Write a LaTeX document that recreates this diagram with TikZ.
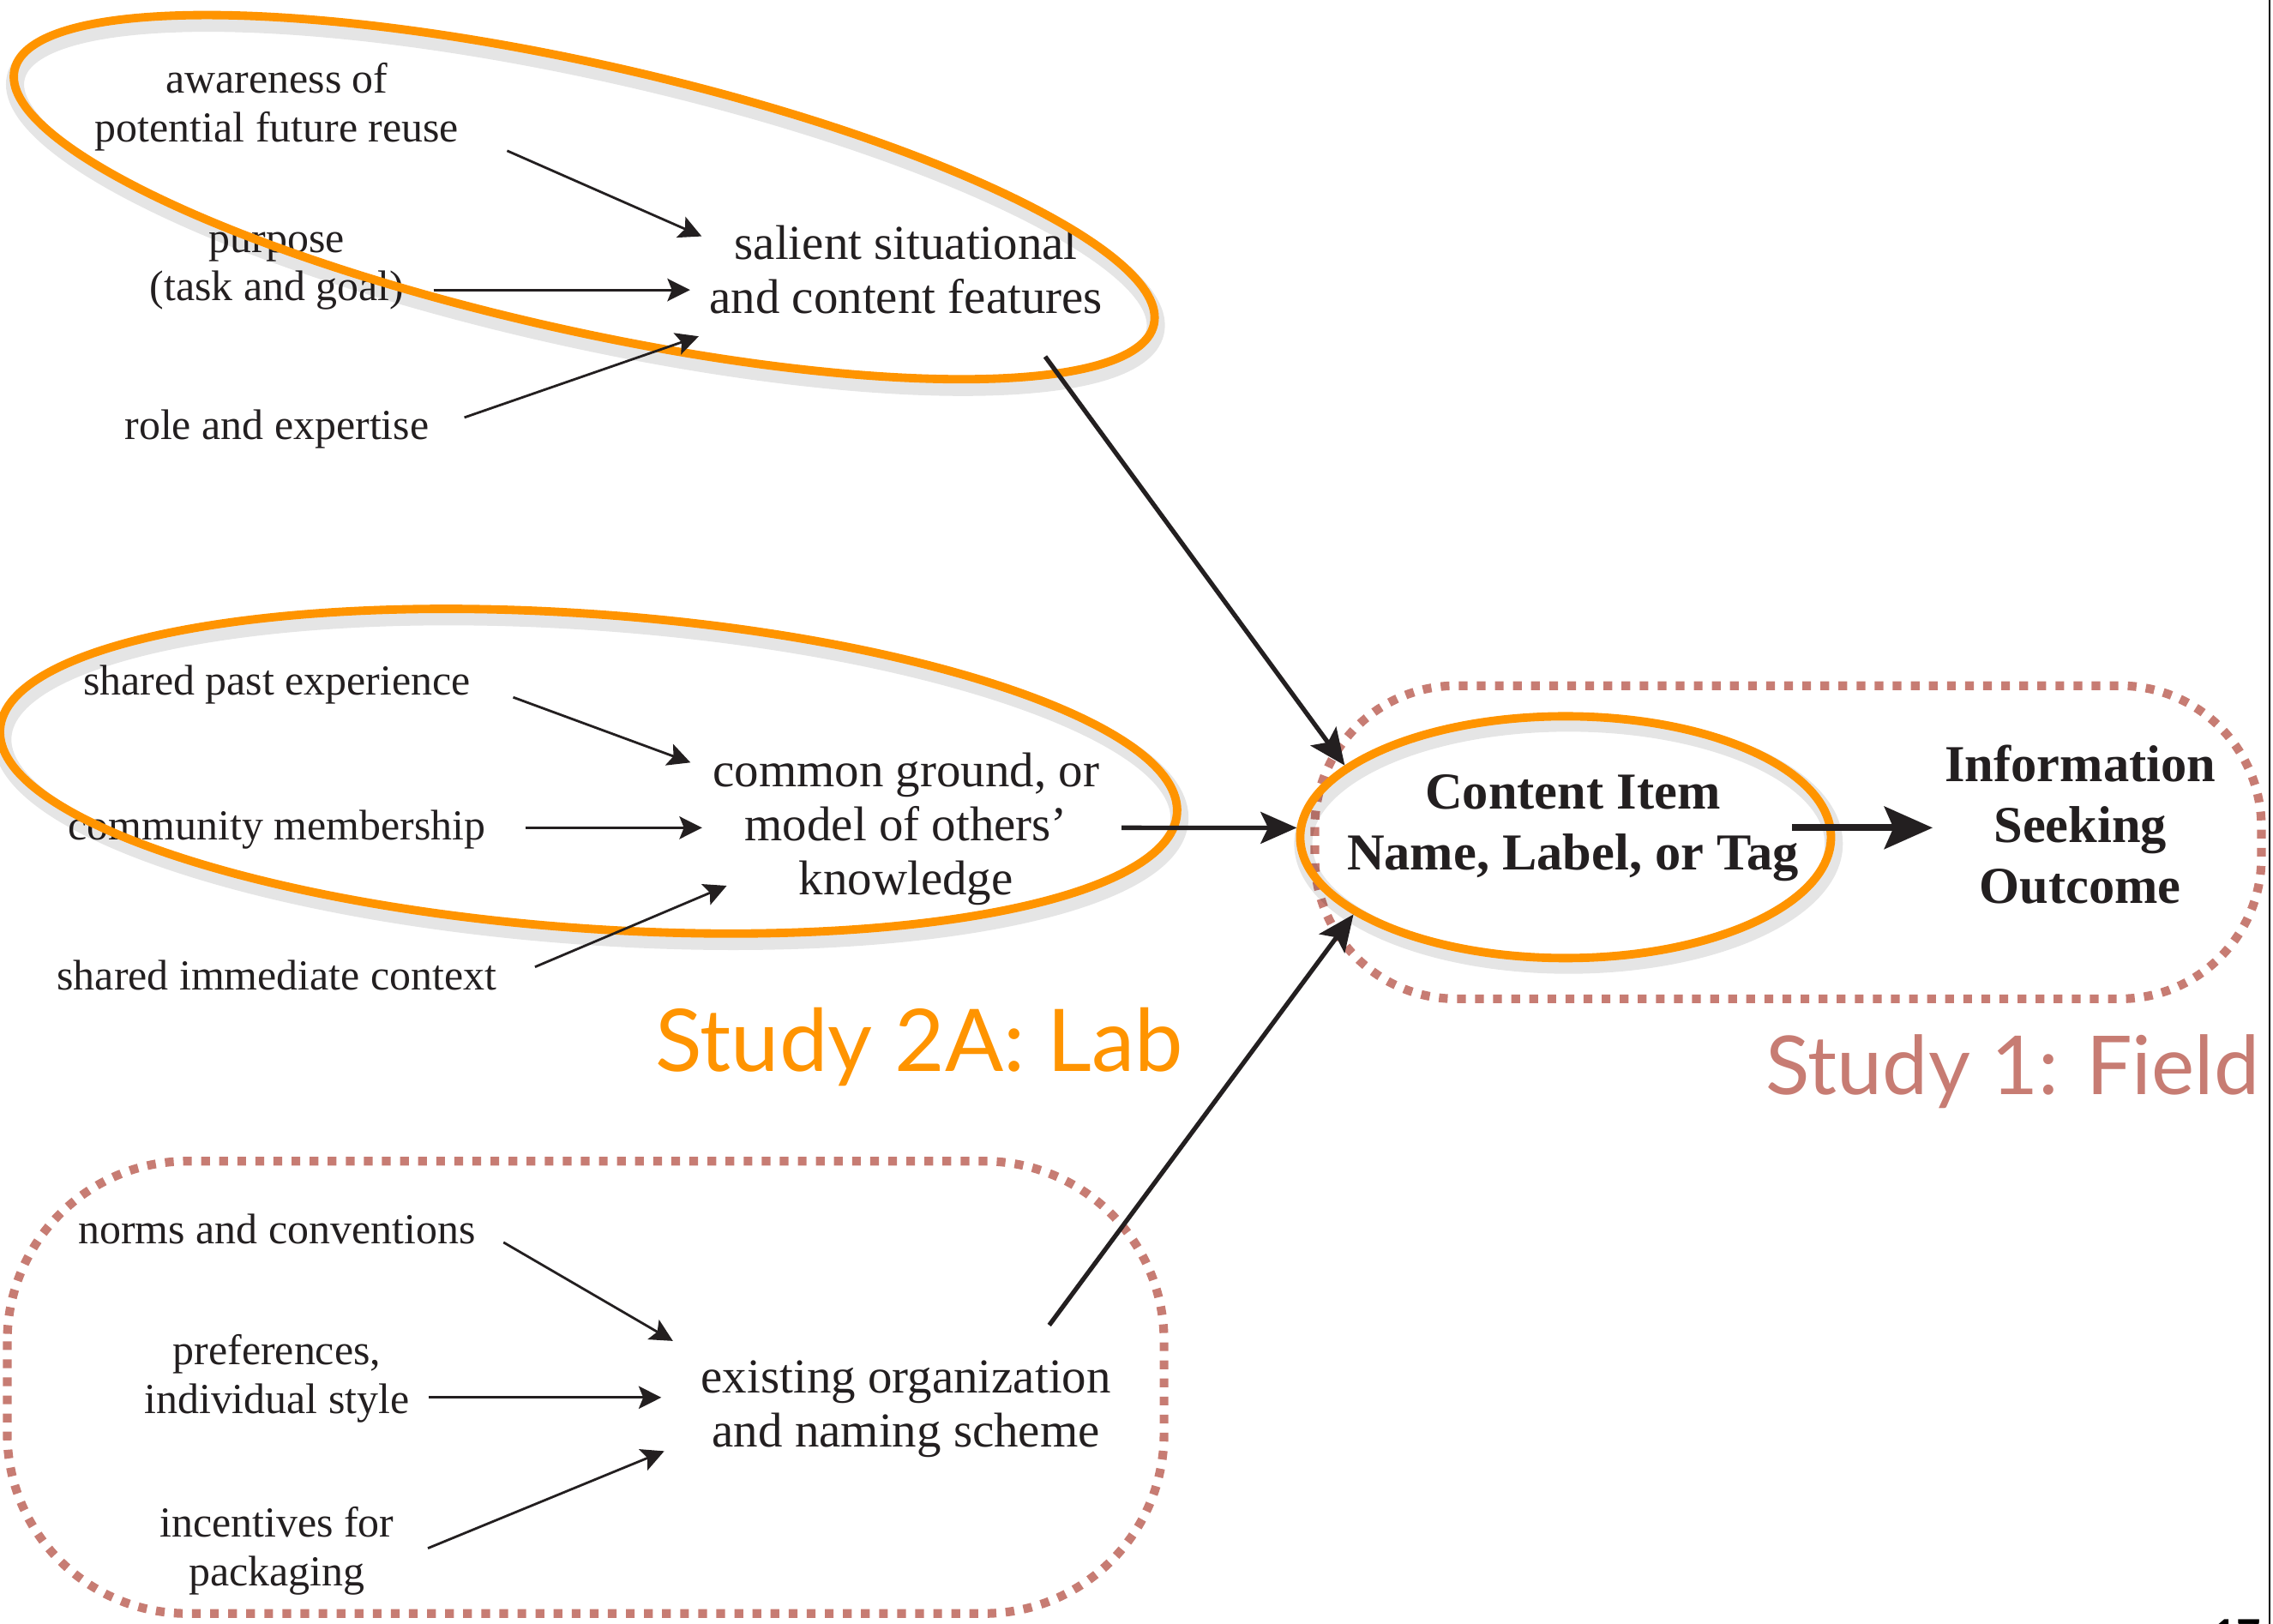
\documentclass[tikz,border=0pt]{standalone}
\usepackage{fontspec}
\usetikzlibrary{arrows.meta,shapes.geometric}
\newfontfamily\studyfont{Lato}
\newfontfamily\palfont{Liberation Serif}
\definecolor{laborange}{RGB}{255,148,0}
\definecolor{fieldrose}{RGB}{199,124,115}
\definecolor{inkblack}{RGB}{35,31,32}
\tikzset{
  factor/.style={align=center,inner sep=0pt,text=inkblack,font=\palfont\fontsize{14.2}{16.2}\selectfont},
  feature/.style={align=center,inner sep=0pt,text=inkblack,font=\palfont\fontsize{16.2}{18}\selectfont},
  outcome/.style={align=center,inner sep=0pt,text=inkblack,font=\palfont\bfseries\fontsize{17.2}{20.2}\selectfont},
  studylabel/.style={inner sep=0pt,font=\studyfont\fontsize{28.7}{30}\selectfont},
  labring/.style={draw=laborange,line width=2.8pt},
  ringshadow/.style={draw=black,opacity=.1,line width=6pt},
  fieldbox/.style={draw=fieldrose,line width=2.9pt,line cap=butt,dash pattern=on 2.9pt off 3.1pt},
  feedarrow/.style={-{Stealth[length=7.5pt,width=7.5pt,inset=1.5pt]},line width=.8pt,draw=inkblack},
  leadarrow/.style={-{Stealth[length=12pt,width=10.5pt,inset=2.5pt]},line width=1.5pt,draw=inkblack},
  outarrow/.style={-{Stealth[length=16pt,width=14pt,inset=3pt]},line width=2.3pt,draw=inkblack},
}
\begin{document}
\begin{tikzpicture}[x=0.16907mm,y=-0.16907mm,line join=round]
	\useasboundingbox (0,0) rectangle (1568,1120);
	\draw[fieldbox,rounded corners=16.5mm] (907,473) rectangle (1560,689);
	\draw[fieldbox,rounded corners=21mm] (5,801) rectangle (803,1113);
	\draw[line width=.7pt] (1565.5,0) -- (1565.5,1120);
	% left column and middle column
	\node[factor] (aware) at (191,74) {awareness of\\potential future reuse};
	\node[factor] (purpose) at (191,187) {purpose\\(task and goal)};
	\node[factor] (role) at (191,296) {role and expertise};
	\node[feature] (salient) at (625,186) {salient situational\\and content features};
	\node[factor] (past) at (191,472) {shared past experience};
	\node[factor] (community) at (191,572) {community membership};
	\node[factor] (context) at (191,673) {shared immediate context};
	\node[feature] (ground) at (625,572) {common ground, or\\model of others’\\knowledge};
	\node[factor] (norms) at (191,848) {norms and conventions};
	\node[factor] (prefs) at (191,951) {preferences,\\individual style};
	\node[factor] (incent) at (191,1070) {incentives for\\packaging};
	\node[feature] (scheme) at (625,972) {existing organization\\and naming scheme};
	\node[outcome] (item) at (1085,571) {Content Item\\Name, Label, or Tag};
	\node[outcome] (info) at (1435,569) {Information\\Seeking\\Outcome};
	% orange rings
	\draw[ringshadow,rotate around={-12.6:(403,136)}] (405,141) ellipse [x radius=402.7,y radius=92];
	\draw[labring,rotate around={-12.6:(403,136)}] (403,136) ellipse [x radius=402.7,y radius=92];
	\draw[ringshadow,rotate around={-4.1:(406,532)}] (408,537) ellipse [x radius=407,y radius=108.4];
	\draw[labring,rotate around={-4.1:(406,532)}] (406,532) ellipse [x radius=407,y radius=108.4];
	\draw[ringshadow] (1082,582) ellipse [x radius=183,y radius=83.5];
	\node[labring,ellipse,inner sep=0pt,minimum width=61.9mm,minimum height=28.2mm] (ring) at (1080,577.5) {};
	\node[studylabel,anchor=base,text=laborange] (lab) at (634,739) {Study 2A: Lab};
	\node[studylabel,anchor=base east,text=fieldrose,font=\studyfont\fontsize{27}{30}\selectfont] (field) at (1559,755) {Study 1: Field};
	\node[anchor=north,inner sep=0pt,font=\studyfont\bfseries\fontsize{14}{14}\selectfont] (pagenum) at (1543,1117) {17};
	% arrows
	\draw[feedarrow] ([shift={(33,30)}]aware.east) -- ([shift={(-5,-23)}]salient.west);
	\draw[feedarrow] ([shift={(20,13)}]purpose.east) -- ([shift={(-13,14)}]salient.west);
	\draw[feedarrow] ([shift={(24,-8)}]role.east) -- ([shift={(-7,46)}]salient.west);
	\draw[feedarrow] ([shift={(29,9)}]past.east) -- ([shift={(-15,-46)}]ground.west);
	\draw[feedarrow] ([shift={(27,-1)}]community.east) -- ([shift={(-7,-1)}]ground.west);
	\draw[feedarrow] ([shift={(26,-6)}]context.east) -- ([shift={(10,39)}]ground.west);
	\draw[feedarrow] ([shift={(19,9)}]norms.east) -- ([shift={(-19,-47)}]scheme.west);
	\draw[feedarrow] ([shift={(13,13)}]prefs.east) -- ([shift={(-27,-8)}]scheme.west);
	\draw[feedarrow] ([shift={(23,-2)}]incent.east) -- ([shift={(-25,29)}]scheme.west);
	\draw[leadarrow] ([shift={(-40,29)}]salient.south east) -- (ring.162);
	\draw[leadarrow] ([shift={(15,-1)}]ground.east) -- (ring.178);
	\draw[leadarrow] ([shift={(-43,-24)}]scheme.north east) -- (ring.200);
	\draw[outarrow] ([shift={(-5,0)}]item.east) -- ([shift={(-8,2)}]info.west);
\end{tikzpicture}
\end{document}
